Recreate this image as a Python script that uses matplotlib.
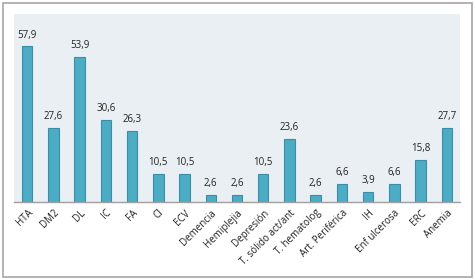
import matplotlib.pyplot as plt
from matplotlib.patches import Rectangle

categorias = ['HTA', 'DM2', 'DL', 'IC', 'FA', 'CI', 'ECV', 'Demencia', 'Hemiplejia',
              'Depresión', 'T. sólido act/ant', 'T. hematolog', 'Art. Periférica',
              'IH', 'Enf ulcerosa', 'ERC', 'Anemia']
valores = [57.9, 27.6, 53.9, 30.6, 26.3, 10.5, 10.5, 2.6, 2.6, 10.5, 23.6, 2.6,
           6.6, 3.9, 6.6, 15.8, 27.7]

plt.rcParams['font.family'] = ['Open Sans', 'DejaVu Sans']

fig = plt.figure(figsize=(4.75, 2.8), dpi=100)
fig.patches.append(Rectangle((2.5 / 475, 3 / 280), 469.5 / 475, 274.5 / 280,
                             transform=fig.transFigure, fill=False,
                             edgecolor='#A6A6A6', linewidth=1.2))

ax = fig.add_axes([14 / 475, 1 - 202 / 280, 446 / 475, 188 / 280])
ax.set_facecolor('#E9EFF3')

x = range(len(categorias))
barras = ax.bar(x, valores, width=0.4, color='#4BACC6', edgecolor='#3A8FA8', linewidth=0.8)

for xi, v in zip(x, valores):
    ax.text(xi, v + 2.2, f'{v:.1f}'.replace('.', ','), ha='center', va='bottom',
            fontsize=7, color='#222222')

ax.set_xlim(-0.5, len(categorias) - 0.5)
ax.set_ylim(0, 70)
ax.set_yticks([])
ax.set_xticks(list(x))
ax.set_xticklabels(categorias, rotation=45, ha='right', rotation_mode='anchor',
                   fontsize=7, color='#222222')
ax.tick_params(axis='x', length=0, pad=4)

for lado in ['top', 'right', 'left']:
    ax.spines[lado].set_visible(False)
ax.spines['bottom'].set_color('#A0A0A0')
ax.spines['bottom'].set_linewidth(1)

fig.savefig('out.png', dpi=100)
